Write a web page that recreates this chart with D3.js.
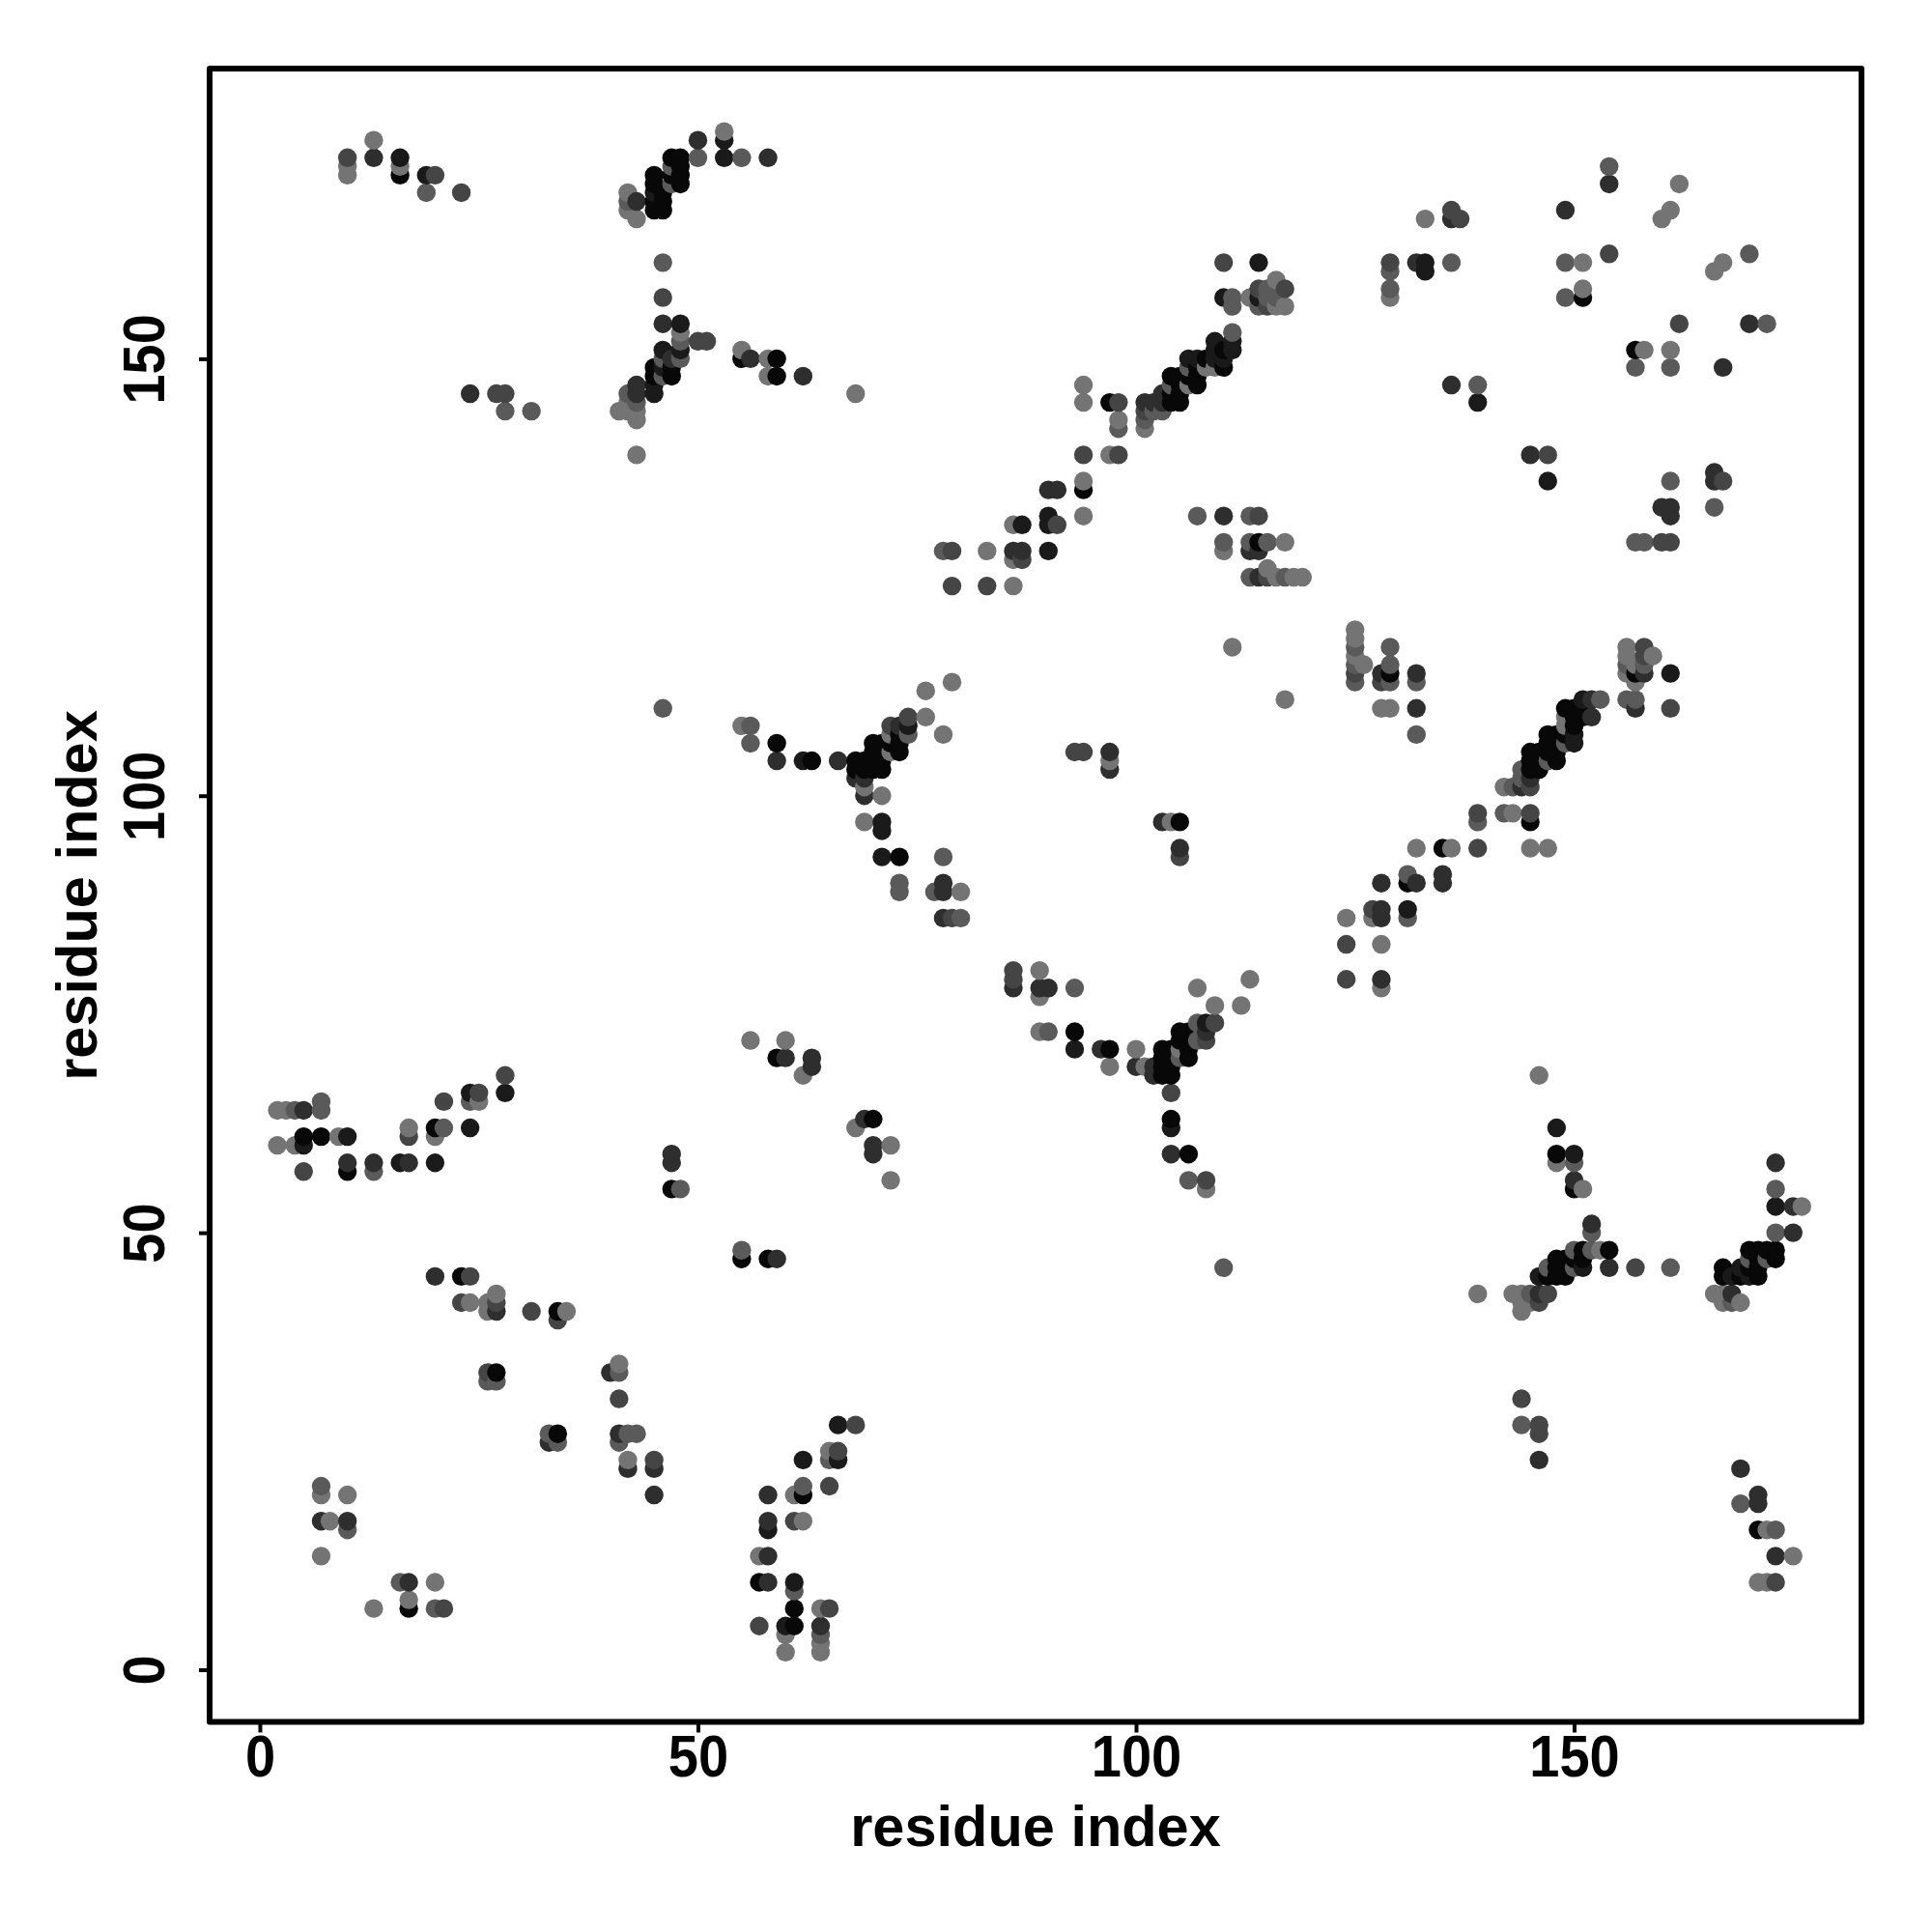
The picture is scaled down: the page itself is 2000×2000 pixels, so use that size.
<!DOCTYPE html>
<html><head><meta charset="utf-8">
<script src="https://cdn.jsdelivr.net/npm/d3@7"></script>
<style>html,body{margin:0;background:#fff}svg{display:block}</style></head>
<body><div id="chart"></div>
<script>
// [residue x, residue y, tone index]
const tones = ["#747474","#5a5a5a","#454545","#2e2e2e","#1a1a1a","#080808"];
const tickValues = [0,50,100,150];
const axisTitle = "residue index";
const topLeft = [[10,173,2],[10,172,0],[10,171,0],[13,175,0],[13,173,3],[16,173,4],[16,172,0],[16,171,5],[19,171,4],[20,171,2],[19,169,1],[23,169,2],
[42,169,0],[42,168,1],[42,167,0],[43,168,3],[43,166,0],[45,171,5],[45,170,5],[45,169,4],[45,168,5],[45,167,5],[46,169,5],[46,168,5],[46,167,5],
[47,173,5],[48,173,5],[48,172,5],[48,171,5],[48,170,5],[47,172,1],[47,171,5],[47,170,1],[50,175,3],[50,173,1],[53,176,0],[53,175,4],[53,173,4],[55,173,1],[58,173,3],
[46,161,1],[46,157,2],[46,154,3],[48,154,4],[48,153,0],[48,152,1],[48,151,4],[48,150,1],[50,152,2],[51,152,2],[55,151,0],[55,150,5],[56,150,3],[58,150,0],[58,148,0],[59,150,5],[59,148,5],[62,148,3],
[46,151,4],[46,150,1],[46,149,4],[45,149,5],[45,148,5],[47,149,5],[47,148,5],[47,150,3],[46,148,1],[45,147,4],[45,146,4],[43,147,3],[43,146,3],[42,146,1],[43,145,1],[42,145,0],[41,144,0],[42,144,0],[43,144,0],[43,143,0],[43,139,0],
[24,146,3],[27,146,2],[28,146,2],[28,144,1],[31,144,1],[68,146,0]];
const upperDiagonal = [[110,161,2],[114,161,4],[110,157,4],[111,157,1],[111,156,1],[113,157,0],[114,158,2],[114,157,4],[114,156,1],[115,158,1],[115,157,1],[115,156,2],[116,159,0],[116,157,1],[116,156,0],[117,158,2],[117,156,0],
[111,153,1],[111,152,4],[111,151,4],[109,152,4],[109,151,4],[110,151,5],[110,150,4],[110,149,5],[109,150,4],[108,149,0],[109,149,0],[106,150,4],[107,150,4],[108,150,5],[106,149,1],[107,149,5],[107,148,5],[107,147,5],[106,148,5],[106,147,0],
[104,148,5],[105,148,5],[104,147,1],[105,147,5],[104,146,5],[105,146,5],[105,145,5],[104,145,5],[103,146,3],[103,145,3],[103,144,1],[102,145,3],[102,144,1],[101,145,3],[101,144,2],[101,143,1],[101,142,0],
[94,147,0],[94,145,0],[97,145,5],[98,145,2],[98,143,0],[98,142,1],[94,139,2],[97,139,0],[98,139,2],[94,136,0],[94,135,5],[90,135,3],[91,135,3],[94,132,0],[90,132,4],[90,131,4],[91,131,2],[86,131,0],[87,131,4],
[83,128,0],[86,128,3],[87,128,3],[86,127,0],[87,127,2],[90,128,4],[83,124,2],[86,124,0],[78,128,1],[79,128,2],[79,124,2],
[107,132,1],[110,132,3],[113,132,1],[114,132,2],[110,129,1],[110,128,0],[113,129,1],[113,128,3],[114,129,5],[114,128,3],[115,129,1],[117,129,0],[115,126,0],[113,125,1],[114,125,3],[115,125,2],[116,125,0],[117,125,1],[118,125,0],[119,125,0],[111,117,0],[117,111,0]];
const topRight = [[129,161,2],[129,160,1],[129,158,1],[129,157,0],[132,161,3],[133,161,4],[133,160,4],[133,166,0],[136,167,2],[136,166,3],[137,166,2],[136,161,1],[136,147,3],[139,147,1],[139,145,4],
[149,167,3],[149,161,1],[151,161,0],[149,157,1],[151,158,0],[151,157,5],[154,172,1],[154,170,3],[154,162,2],[160,166,0],[161,167,0],[162,170,0],[162,154,2],[166,160,0],[167,161,0],[170,162,1],[170,154,3],[172,154,1],
[157,151,5],[158,151,0],[161,151,0],[157,149,1],[161,149,1],[167,149,3],[145,139,3],[147,139,2],[147,136,4],[161,136,1],[160,133,3],[161,133,3],[161,132,3],[157,129,1],[158,129,1],[160,129,2],[161,129,2],[166,137,3],[166,136,3],[167,136,2],[166,133,1]];
const centerArm = [[46,110,1],[55,108,0],[56,108,1],[56,106,1],[59,106,5],[59,104,3],[62,104,4],[63,104,5],[66,104,3],[68,104,5],[68,103,5],[68,102,3],[69,104,5],[69,103,5],[69,102,3],[69,101,0],[69,100,3],[71,100,0],
[70,106,5],[70,105,5],[70,104,5],[71,106,5],[71,105,5],[71,104,5],[71,103,5],[70,103,5],[72,108,2],[73,108,3],[74,109,2],[74,108,4],[74,107,1],[73,107,5],[73,106,5],[73,105,5],[72,107,0],[72,106,5],[72,105,0],
[76,112,0],[79,113,0],[76,109,0],[78,107,0],[69,97,0],[71,97,4],[71,96,4],[71,93,4],[73,93,5],[78,93,1],[73,90,1],[73,89,1],[78,90,3],[78,89,3],[77,89,1],[80,89,0],[78,86,3],[79,86,2],[80,86,1],
[93,105,2],[94,105,2],[97,105,3],[97,104,0],[97,103,3],[103,97,3],[104,97,0],[105,97,5],[105,94,3],[105,93,2]];
const lowerCenter = [[86,80,2],[86,79,2],[86,78,3],[89,80,0],[89,78,3],[89,77,0],[90,78,3],[93,78,1],[89,73,0],[90,73,1],[93,73,5],[93,71,4],[96,71,3],[97,71,5],[97,69,0],[100,71,0],[100,69,3],[101,69,0],
[102,69,3],[102,68,3],[103,68,5],[103,69,5],[103,71,5],[103,70,5],[104,68,5],[104,69,5],[104,70,5],[104,71,5],[105,73,5],[105,72,5],[106,73,5],[106,72,5],[106,71,5],[106,70,5],[105,71,0],[105,70,1],
[107,74,1],[107,72,1],[108,74,4],[108,73,3],[108,72,2],[109,74,2],[109,76,0],[107,78,0],[112,76,0],[113,79,0],[104,66,2],[104,63,5],[104,62,4],[104,59,3],[106,59,5],[106,56,1],[108,56,2],[108,55,0],[110,46,1]];
const rightDiagonal = [[125,119,0],[125,118,0],[125,117,1],[125,116,0],[125,115,1],[125,114,2],[125,113,1],[126,115,0],[128,114,3],[128,113,2],[129,117,1],[129,115,1],[129,114,5],[129,113,1],[132,114,3],[132,113,1],[128,110,0],[129,110,0],[132,110,3],[132,107,1],
[156,117,0],[156,116,0],[156,115,1],[156,114,0],[157,115,0],[157,114,5],[157,113,0],[158,117,2],[158,116,2],[158,115,1],[158,114,3],[159,116,0],[161,114,4],[156,111,1],[157,111,1],[157,110,3],[161,110,2],
[153,111,1],[152,111,3],[151,111,4],[149,110,5],[150,110,5],[151,110,5],[152,109,3],[151,109,5],[150,109,5],[149,109,0],[149,108,0],[150,108,5],[150,107,4],[150,106,4],[149,107,5],[149,106,1],[147,107,5],[148,107,5],[147,106,5],[148,106,5],[148,105,5],[148,104,5],[147,105,5],[147,104,1],
[145,105,5],[146,105,5],[145,104,5],[146,104,5],[146,103,5],[145,103,5],[144,103,1],[144,102,1],[145,102,3],[144,101,3],[145,101,2],[143,101,1],[142,101,0],
[139,98,2],[139,97,1],[142,98,1],[143,98,0],[145,98,2],[145,97,5],[132,94,0],[135,94,5],[136,94,0],[139,94,2],[145,94,0],[147,94,0],[131,91,1],[131,90,5],[132,90,3],[135,91,3],[135,90,3],[128,90,3],[127,87,2],[128,87,3],[127,86,0],[128,86,3],[131,87,4],[131,86,1],[124,86,0],[124,83,2],[128,83,0],[124,79,2],[128,79,3],[128,78,0]];
const lowerRight = [[148,62,4],[146,68,0],[148,59,5],[148,58,0],[150,59,4],[150,58,1],[150,56,3],[150,55,5],[151,55,0],[152,51,3],[152,50,1],[154,48,5],[154,46,3],[157,46,2],[161,46,1],[153,48,0],[152,48,1],[151,48,5],[150,48,1],[150,47,5],[151,47,5],[151,46,4],[150,46,1],[149,46,5],[149,47,5],[149,45,5],[148,47,5],[148,46,5],[148,45,5],[147,46,1],[147,45,5],[146,45,4],
[143,43,0],[144,43,0],[145,43,1],[146,43,3],[147,43,2],[144,42,0],[145,42,0],[146,42,2],[144,41,0],[139,43,0],[173,58,3],[173,55,1],[173,53,4],[175,53,3],[176,53,0],[173,50,1],[175,50,3],
[170,48,5],[171,48,5],[172,48,5],[173,48,5],[172,47,1],[173,47,5],[171,47,5],[171,46,5],[171,45,5],[170,47,1],[170,46,5],[170,45,4],[169,46,4],[169,45,5],[168,45,4],[167,46,5],[167,45,5],[166,43,0],[167,43,0],[168,43,3],[167,42,0],[168,42,1],[169,42,0],
[144,31,2],[144,28,1],[146,28,2],[146,27,2],[146,24,3],[169,23,3],[169,19,1],[171,20,3],[171,19,3],[171,16,5],[172,16,0],[173,16,1],[173,13,3],[175,13,0],[171,10,0],[172,10,0],[173,10,2]];
const leftMiddle = [[2,64,0],[3,64,0],[4,64,1],[5,64,3],[7,65,1],[7,64,1],[2,60,0],[4,60,0],[5,61,5],[5,60,4],[7,61,5],[9,61,0],[10,61,4],[5,57,2],[10,58,3],[10,57,5],[13,58,3],[13,57,1],[16,58,4],[17,58,3],[20,58,4],
[17,62,0],[17,61,2],[20,62,5],[21,62,1],[20,61,0],[21,65,2],[24,66,4],[24,65,1],[25,66,2],[25,65,0],[24,62,4],[28,68,2],[28,66,4],
[20,45,3],[23,45,5],[24,45,2],[23,42,2],[24,42,0],[26,42,0],[26,41,0],[27,43,0],[27,42,2],[27,41,3],[31,41,2],[34,41,5],[34,40,2],[35,41,0],
[47,59,3],[47,58,3],[47,55,5],[48,55,1],[55,48,1],[55,47,5],[58,47,5],[59,47,3],[56,72,0],[59,70,5],[60,70,3],[60,72,0],[62,68,0],[63,70,3],[63,69,3],[68,62,0],[69,63,3],[70,63,5],[70,60,3],[70,59,3],[72,60,0],[72,56,0]];
const lowerLeft = [[26,34,2],[27,34,5],[26,33,1],[27,33,1],[33,27,1],[33,26,3],[34,27,5],[34,26,1],[40,34,3],[41,35,0],[41,34,1],[41,31,2],[41,27,3],[41,26,1],[42,27,1],[43,27,1],[42,24,0],[42,23,3],[45,24,2],[45,23,3],[45,20,3],
[7,21,1],[7,20,0],[10,20,0],[7,17,3],[8,17,0],[10,17,3],[10,16,1],[7,13,0],[13,7,0],[16,10,1],[17,10,3],[17,8,0],[17,7,5],[20,10,0],[20,7,1],[21,7,2],
[57,5,2],[60,5,4],[61,5,5],[60,4,0],[60,2,0],[64,5,3],[64,4,1],[64,3,0],[64,2,0],[61,7,5],[64,7,0],[65,7,2],[57,10,5],[58,10,3],[61,10,4],[61,9,1],[57,13,0],[58,13,3],[58,16,4],[58,17,3],[61,17,2],[62,17,0],[58,20,3],[61,20,0],[62,20,5],[62,21,1],[65,21,2],[62,24,4],[65,25,0],[66,25,2],[65,24,1],[66,24,4],[66,28,4],[68,28,2]];

const contacts = [topLeft,upperDiagonal,topRight,centerArm,lowerCenter,rightDiagonal,lowerRight,leftMiddle,lowerLeft].flat()
  .sort((a,b)=>d3.ascending(a[0],b[0])||d3.ascending(a[1],b[1]));

const W=2000,H=2000,L=217,R=1927,T=71,B=1782.5;
const x=d3.scaleLinear().domain([-5.73,182.8]).range([L,R]);
const y=d3.scaleLinear().domain([-5.97,183.2]).range([B,T]);
const font="'Liberation Sans',Arial,sans-serif";
const svg=d3.select("#chart").append("svg").attr("width",W).attr("height",H).style("background","#fff");

svg.append("g").selectAll("circle").data(contacts).join("circle")
  .attr("cx",d=>x(d[0])).attr("cy",d=>y(d[1])).attr("r",9.7).attr("fill",d=>tones[d[2]]);

svg.append("rect").attr("x",L).attr("y",T).attr("width",R-L).attr("height",B-T)
  .attr("fill","none").attr("stroke","#000").attr("stroke-width",6).attr("stroke-linejoin","round");

const gx=svg.append("g").attr("transform",`translate(0,${B})`)
  .call(d3.axisBottom(x).tickValues(tickValues).tickSize(11).tickPadding(0));
const gy=svg.append("g").attr("transform",`translate(${L},0)`)
  .call(d3.axisLeft(y).tickValues(tickValues).tickSize(11).tickPadding(0));
[gx,gy].forEach(g=>{g.select(".domain").remove();
  g.selectAll(".tick line").attr("stroke","#000").attr("stroke-width",4);});
gx.selectAll(".tick text").attr("y",0).attr("dy",0)
  .attr("transform","translate(0,35) scale(1,1.08)")
  .attr("text-anchor","middle").attr("dominant-baseline","central")
  .style("font",`bold 56px ${font}`).attr("fill","#000");
gy.selectAll(".tick text").attr("x",0).attr("dy",0)
  .attr("transform","translate(-68,0) rotate(-90) scale(1,1.08)")
  .attr("text-anchor","middle").attr("dominant-baseline","central")
  .style("font",`bold 56px ${font}`).attr("fill","#000");

svg.append("text").attr("x",1072).attr("y",1890).attr("text-anchor","middle").attr("dominant-baseline","central")
  .style("font",`bold 59.5px ${font}`).text(axisTitle);
svg.append("text").attr("transform","translate(79,927) rotate(-90)").attr("text-anchor","middle").attr("dominant-baseline","central")
  .style("font",`bold 59.5px ${font}`).text(axisTitle);
</script></body></html>
